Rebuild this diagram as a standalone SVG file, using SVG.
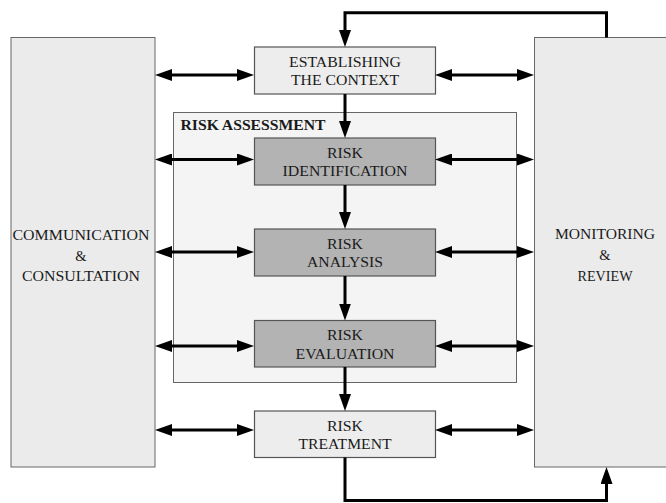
<svg xmlns="http://www.w3.org/2000/svg" width="666" height="503" viewBox="0 0 666 503">
<style>
.side{fill:#ebebeb;stroke:#666;stroke-width:1}
.light{fill:#ededed;stroke:#555;stroke-width:1.2}
.dark{fill:#b3b3b3;stroke:#555;stroke-width:1.2}
.group{fill:#f4f4f4;stroke:#666;stroke-width:1}
text{font-family:"Liberation Serif","Liberation Sans",Arial,serif;font-size:14.5px;fill:#1a1a1a;text-anchor:middle}
.title{font-weight:bold;text-anchor:start}
.conn{fill:none;stroke:#000;stroke-width:3}
</style>
<defs>
<marker id="ah" viewBox="0 0 17 12" markerWidth="17" markerHeight="12" refX="7" refY="6" orient="auto-start-reverse" markerUnits="userSpaceOnUse">
<path d="M0,0 L17,6 L0,12 Z" fill="#000"/>
</marker>
</defs>
<g id="communication">
<rect class="side" x="11" y="37.5" width="144" height="429.5"/>
<text x="81" y="240" textLength="137" lengthAdjust="spacingAndGlyphs">COMMUNICATION</text>
<text x="81" y="260.5">&amp;</text>
<text x="81" y="281" textLength="118" lengthAdjust="spacingAndGlyphs">CONSULTATION</text>
</g>
<g id="monitoring">
<rect class="side" x="534.5" y="37.5" width="140" height="429.5"/>
<text x="605" y="239" textLength="100" lengthAdjust="spacingAndGlyphs">MONITORING</text>
<text x="605" y="260">&amp;</text>
<text x="605" y="281" textLength="55" lengthAdjust="spacingAndGlyphs">REVIEW</text>
</g>
<g id="risk-assessment">
<rect class="group" x="173.5" y="112.5" width="343" height="270"/>
<text class="title" x="180.5" y="130" textLength="145" lengthAdjust="spacingAndGlyphs">RISK ASSESSMENT</text>
</g>
<g id="context">
<rect class="light" x="254.5" y="47" width="181" height="47"/>
<text x="345" y="66.7" textLength="112" lengthAdjust="spacingAndGlyphs">ESTABLISHING</text>
<text x="345" y="85" textLength="108" lengthAdjust="spacingAndGlyphs">THE CONTEXT</text>
</g>
<g id="identification">
<rect class="dark" x="254.5" y="138" width="181" height="47"/>
<text x="345" y="157.5" textLength="36" lengthAdjust="spacingAndGlyphs">RISK</text>
<text x="345" y="175.7" textLength="125" lengthAdjust="spacingAndGlyphs">IDENTIFICATION</text>
</g>
<g id="analysis">
<rect class="dark" x="254.5" y="229" width="181" height="47"/>
<text x="345" y="249" textLength="36" lengthAdjust="spacingAndGlyphs">RISK</text>
<text x="345" y="267.3" textLength="76" lengthAdjust="spacingAndGlyphs">ANALYSIS</text>
</g>
<g id="evaluation">
<rect class="dark" x="254.5" y="320.5" width="181" height="46.5"/>
<text x="345" y="340.3" textLength="36" lengthAdjust="spacingAndGlyphs">RISK</text>
<text x="345" y="358.5" textLength="99" lengthAdjust="spacingAndGlyphs">EVALUATION</text>
</g>
<g id="treatment">
<rect class="light" x="254.5" y="411" width="181" height="46.5"/>
<text x="345" y="431" textLength="36" lengthAdjust="spacingAndGlyphs">RISK</text>
<text x="345" y="449.2" textLength="93" lengthAdjust="spacingAndGlyphs">TREATMENT</text>
</g>
<g id="connectors">
<path class="conn" d="M165,75 H244" marker-start="url(#ah)" marker-end="url(#ah)"/>
<path class="conn" d="M445,75 H524" marker-start="url(#ah)" marker-end="url(#ah)"/>
<path class="conn" d="M165,159.5 H244" marker-start="url(#ah)" marker-end="url(#ah)"/>
<path class="conn" d="M445,159.5 H524" marker-start="url(#ah)" marker-end="url(#ah)"/>
<path class="conn" d="M165,252 H244" marker-start="url(#ah)" marker-end="url(#ah)"/>
<path class="conn" d="M445,252 H524" marker-start="url(#ah)" marker-end="url(#ah)"/>
<path class="conn" d="M165,346 H244" marker-start="url(#ah)" marker-end="url(#ah)"/>
<path class="conn" d="M445,346 H524" marker-start="url(#ah)" marker-end="url(#ah)"/>
<path class="conn" d="M165,430 H244" marker-start="url(#ah)" marker-end="url(#ah)"/>
<path class="conn" d="M445,430 H524" marker-start="url(#ah)" marker-end="url(#ah)"/>
<path class="conn" d="M345,94 V128" marker-end="url(#ah)"/>
<path class="conn" d="M345,185 V219" marker-end="url(#ah)"/>
<path class="conn" d="M345,276 V310.5" marker-end="url(#ah)"/>
<path class="conn" d="M345,367 V401" marker-end="url(#ah)"/>
<path class="conn" d="M606.5,37.5 V12.7 H345 V37" marker-end="url(#ah)"/>
<path class="conn" d="M345,457.5 V500.5 H606.5 V477" marker-end="url(#ah)"/>
</g>
</svg>
